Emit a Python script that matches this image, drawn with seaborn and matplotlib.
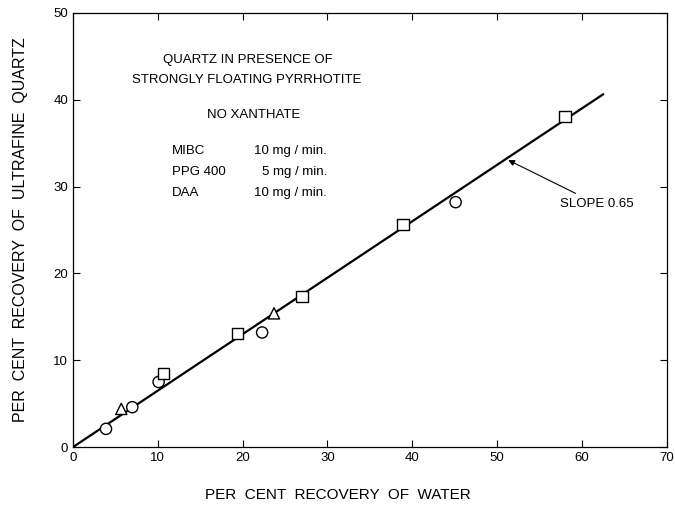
import matplotlib
matplotlib.use("Agg")
import matplotlib.pyplot as plt
import seaborn as sns
import pandas as pd
import numpy as np

# Data
circle_x = [3.9, 7.0, 10.1, 22.3, 45.1]
circle_y = [2.1, 4.6, 7.5, 13.2, 28.2]
square_x = [10.7, 19.4, 27.0, 38.9, 58.0]
square_y = [8.5, 13.1, 17.3, 25.6, 38.1]
triangle_x = [5.7, 23.7]
triangle_y = [4.4, 15.4]
fit_x = [0.0, 62.5]
slope = 0.65
x_ticks = [0, 10, 20, 30, 40, 50, 60, 70]
y_ticks = [0, 10, 20, 30, 40, 50]

sns.set_theme(style="ticks")
plt.rcParams['font.family'] = ['Liberation Sans', 'DejaVu Sans']
plt.rcParams['text.color'] = 'black'
plt.rcParams['axes.labelcolor'] = 'black'

df = pd.DataFrame({
    "water": circle_x + square_x + triangle_x,
    "quartz": circle_y + square_y + triangle_y,
    "shape": ["circle"] * len(circle_x) + ["square"] * len(square_x) + ["triangle"] * len(triangle_x),
})

fig = plt.figure(figsize=(6.75, 5.11), dpi=100)
ax = fig.add_axes([0.108, 0.125, 0.880, 0.850])

line_df = pd.DataFrame({"x": fit_x, "y": [slope * v for v in fit_x]})
sns.lineplot(data=line_df, x="x", y="y", color="black", linewidth=1.6, ax=ax, zorder=2)

sns.scatterplot(data=df, x="water", y="quartz", style="shape",
                markers={"circle": "o", "square": "s", "triangle": "^"},
                color="white", edgecolor="black", linewidth=1.0, s=65,
                legend=False, ax=ax, zorder=3)

ax.set_xlim(0, 70)
ax.set_ylim(0, 50)
ax.set_xticks(x_ticks)
ax.set_yticks(y_ticks)
ax.tick_params(direction="in", top=True, right=True, length=5, width=0.8,
               labelsize=9.5, colors="black")
for sp in ax.spines.values():
    sp.set_visible(True)
    sp.set_color("black")
    sp.set_linewidth(0.9)

ax.set_xlabel("PER  CENT  RECOVERY  OF  WATER", fontsize=11, labelpad=16, color="black")
ax.xaxis.set_label_coords(0.446, -0.095)
ax.set_ylabel("PER  CENT  RECOVERY  OF  ULTRAFINE  QUARTZ", fontsize=11.5, labelpad=18, color="black")

tkw = dict(fontsize=9.5, color="black")
ax.text(20.6, 44.6, "QUARTZ IN PRESENCE OF", ha="center", va="center", **tkw)
ax.text(20.5, 42.3, "STRONGLY FLOATING PYRRHOTITE", ha="center", va="center", **tkw)
ax.text(21.3, 38.2, "NO XANTHATE", ha="center", va="center", **tkw)
ax.text(11.7, 34.1, "MIBC", ha="left", va="center", **tkw)
ax.text(21.4, 34.1, "10 mg / min.", ha="left", va="center", **tkw)
ax.text(11.7, 31.7, "PPG 400", ha="left", va="center", **tkw)
ax.text(22.3, 31.7, "5 mg / min.", ha="left", va="center", **tkw)
ax.text(11.7, 29.3, "DAA", ha="left", va="center", **tkw)
ax.text(21.4, 29.3, "10 mg / min.", ha="left", va="center", **tkw)

ax.annotate("SLOPE 0.65", xy=(51.3, slope * 51.3 - 0.3), xytext=(57.4, 28.0),
            fontsize=9.5, ha="left", va="center", color="black",
            arrowprops=dict(arrowstyle="-|>", color="black", lw=0.8,
                            mutation_scale=9, shrinkA=2, shrinkB=0))

fig.savefig("out.png", dpi=100)
